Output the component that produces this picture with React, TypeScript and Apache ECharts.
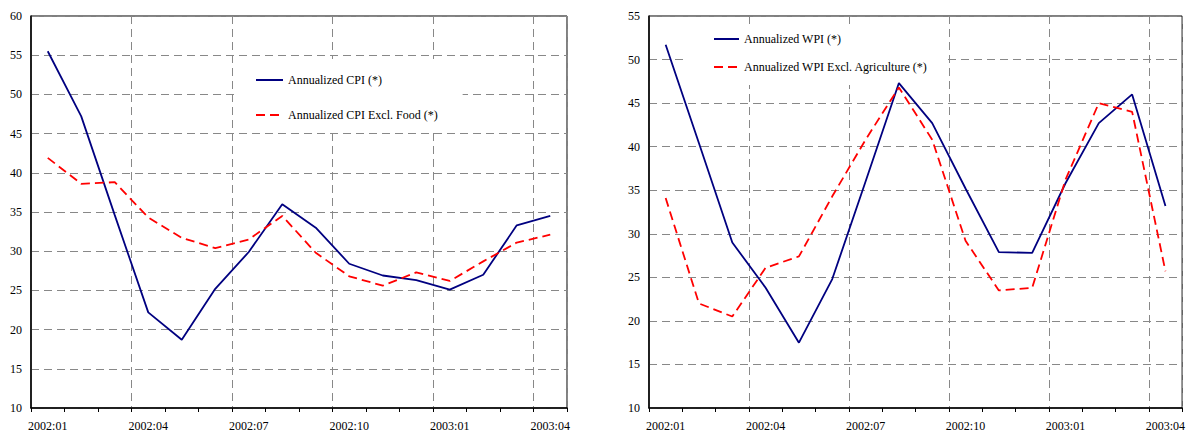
import React, { useEffect, useRef } from "react";
import * as echarts from "echarts";

const months = [
  "2002:01", "2002:02", "2002:03", "2002:04", "2002:05", "2002:06", "2002:07", "2002:08",
  "2002:09", "2002:10", "2002:11", "2002:12", "2003:01", "2003:02", "2003:03", "2003:04",
];
const cpi = [55.5, 47.2, 34.6, 22.2, 18.7, 25.2, 29.9, 36.0, 33.0, 28.4, 26.9, 26.3, 25.1, 27.0, 33.3, 34.5];
const cpiExFood = [41.9, 38.6, 38.8, 34.3, 31.7, 30.4, 31.5, 34.5, 29.8, 26.8, 25.6, 27.3, 26.2, 28.7, 31.1, 32.1];
const wpi = [51.7, 40.4, 29.0, 23.8, 17.5, 24.8, 36.0, 47.3, 42.7, 35.2, 27.9, 27.8, 35.8, 42.7, 46.0, 33.2];
const wpiExAg = [34.1, 22.0, 20.5, 26.1, 27.4, 34.3, 40.8, 46.8, 40.8, 29.2, 23.5, 23.8, 36.2, 45.0, 44.0, 25.7];

const names = {
  cpi: "Annualized CPI (*)",
  cpiEx: "Annualized CPI Excl. Food (*)",
  wpi: "Annualized WPI (*)",
  wpiEx: "Annualized WPI Excl. Agriculture (*)",
};

const FONT = "'Liberation Serif', 'Times New Roman', serif";
const gridDash = { color: "#888", width: 1, type: [8, 5] as number[] };

function xAxis(gridIndex: number) {
  return {
    type: "category",
    gridIndex,
    data: months,
    boundaryGap: true,
    axisLine: { show: true, lineStyle: { color: "#000", width: 1.5 } },
    axisTick: { show: true, interval: 0, length: 4, lineStyle: { color: "#000" } },
    axisLabel: { interval: 2, margin: 12, fontFamily: FONT, fontSize: 12, color: "#000" },
    splitLine: { show: true, interval: 2, lineStyle: gridDash },
  };
}

function yAxis(gridIndex: number, max: number) {
  return {
    type: "value",
    gridIndex,
    min: 10,
    max,
    interval: 5,
    axisLine: { show: true, lineStyle: { color: "#000", width: 1.5 } },
    axisTick: { show: false },
    axisLabel: { margin: 9, fontFamily: FONT, fontSize: 12, color: "#000" },
    splitLine: { show: true, lineStyle: gridDash },
  };
}

const blueLine = { color: "#000080", width: 1.8, type: "solid" };
const redLine = { color: "#ff0000", width: 1.8, type: [9, 5] as number[] };

export default function App() {
  const ref = useRef<HTMLDivElement>(null);
  useEffect(() => {
    document.body.style.margin = "0";
    const chart = echarts.init(ref.current!, null, { renderer: "svg" });
    const legendText = { fontFamily: FONT, fontSize: 12, color: "#000" };
    chart.setOption({
      animation: false,
      backgroundColor: "#fff",
      grid: [
        { left: 31, top: 16, width: 536, height: 393, show: true, borderColor: "#000", borderWidth: 1 },
        { left: 649, top: 16, width: 537, height: 393, show: true, borderColor: "#000", borderWidth: 1 },
      ],
      xAxis: [xAxis(0), xAxis(1)],
      yAxis: [yAxis(0, 60), yAxis(1, 55)],
      legend: [
        {
          data: [names.cpi, names.cpiEx],
          orient: "vertical",
          left: 238,
          top: 59,
          padding: [15, 25, 12, 17],
          itemWidth: 27,
          itemHeight: 14,
          itemGap: 23,
          backgroundColor: "#fff",
          textStyle: legendText,
          itemStyle: { opacity: 0 },
        },
        {
          data: [names.wpi, names.wpiEx],
          orient: "vertical",
          left: 685,
          top: 25,
          padding: [8, 18, 12, 28],
          itemWidth: 25,
          itemHeight: 14,
          itemGap: 16,
          backgroundColor: "#fff",
          textStyle: legendText,
          itemStyle: { opacity: 0 },
        },
      ],
      series: [
        { name: names.cpi, type: "line", xAxisIndex: 0, yAxisIndex: 0, data: cpi, symbol: "none", z: 10, lineStyle: blueLine, itemStyle: { color: "#000080" } },
        { name: names.cpiEx, type: "line", xAxisIndex: 0, yAxisIndex: 0, data: cpiExFood, symbol: "none", z: 10, lineStyle: redLine, itemStyle: { color: "#ff0000" } },
        { name: names.wpi, type: "line", xAxisIndex: 1, yAxisIndex: 1, data: wpi, symbol: "none", z: 10, lineStyle: blueLine, itemStyle: { color: "#000080" } },
        { name: names.wpiEx, type: "line", xAxisIndex: 1, yAxisIndex: 1, data: wpiExAg, symbol: "none", z: 10, lineStyle: redLine, itemStyle: { color: "#ff0000" } },
      ],
    });
    return () => chart.dispose();
  }, []);
  return <div ref={ref} style={{ width: 1188, height: 432 }} />;
}
